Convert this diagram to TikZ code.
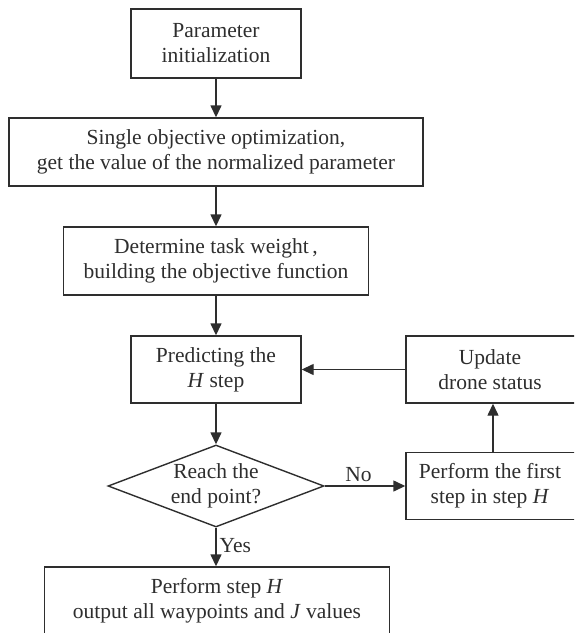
\documentclass[tikz,border=0pt]{standalone}
\usepackage{fontspec}
\setmainfont{Liberation Serif}
\usetikzlibrary{arrows.meta,shapes.geometric}
\definecolor{ink}{HTML}{2E2E2E}
\begin{document}
\begin{tikzpicture}[x=1pt,y=-1pt,
  font=\fontsize{21.5}{25}\selectfont,
  every node/.style={text=ink},
  box/.style={draw=ink,line width=1.4pt,rectangle,inner sep=0pt,align=center},
  dec/.style={draw=ink,line width=1.4pt,diamond,inner sep=0pt,align=center,aspect=2.63},
  conn/.style={draw=ink,line width=1.4pt,-{Triangle[length=12pt,width=11pt]}},
  lbl/.style={inner sep=0pt}]
\useasboundingbox (0,0) rectangle (574,633);
\clip (0,0) rectangle (574,633);
\node[box,minimum width=170,minimum height=69] (b1) at (216,43.5) {Parameter\\initialization};
\node[box,minimum width=414,minimum height=68] (b2) at (216,152) {Single objective optimization,\\get the value of the normalized parameter};
\node[box,minimum width=305,minimum height=68] (b3) at (216,261) {Determine task weight\,,\\building the objective function};
\node[box,minimum width=170,minimum height=67] (b4) at (216,369.5) {Predicting the\\\textit{H} step};
\node[box,minimum width=174,minimum height=67] (b5) at (493,369.5) {\hspace*{-6pt}Update\\\hspace*{-6pt}drone status};
\node[dec,minimum width=216,minimum height=82] (d) at (216,486) {};
\node[lbl,align=center] (dt) at (216,486) {Reach the\\end point?};
\node[box,minimum width=174,minimum height=67] (b6) at (493,486) {\hspace*{-6pt}Perform the first\\\hspace*{-6pt}step in step \textit{H}};
\node[box,minimum width=345,minimum height=68] (b7) at (217,601) {Perform step \textit{H}\\output all waypoints and \textit{J} values};
\draw[conn] (b1.south) -- (b2.north);
\draw[conn] (b2.south) -- (b3.north);
\draw[conn] (b3.south) -- (b4.north);
\draw[conn] (b4.south) -- (d.north);
\draw[conn] (d.east) -- (b6.west) node[lbl,pos=0.42,above=4pt] (no) {No};
\draw[conn] (b6.north) -- (b5.south);
\draw[conn] (b5.west) -- (b4.east);
\draw[conn] (d.south) -- (d.south |- b7.north) node[lbl,pos=0.45,right=3pt] (yes) {Yes};
\end{tikzpicture}
\end{document}
